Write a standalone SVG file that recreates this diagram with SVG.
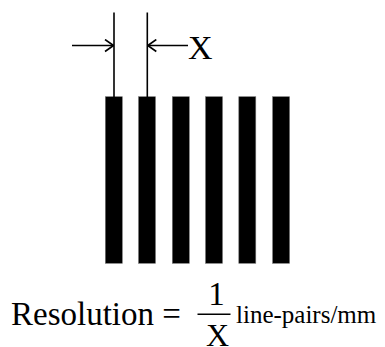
<svg xmlns="http://www.w3.org/2000/svg" width="385" height="347" viewBox="0 0 385 347">
<style>
.bar{fill:#000;stroke:#777;stroke-width:0.6}
.ln{stroke:#000;stroke-width:1.6;fill:none}
.t{font-family:"Liberation Serif","Times New Roman",serif;fill:#000}
</style>
<defs>
<marker id="ah" viewBox="0 0 10 14" refX="9.5" refY="7" markerWidth="10" markerHeight="14" markerUnits="userSpaceOnUse" orient="auto">
<path d="M1,1 L9.5,7 L1,13" fill="none" stroke="#000" stroke-width="1.6"/>
</marker>
</defs>
<rect width="385" height="347" fill="#fff"/>
<g id="bars">
<rect class="bar" x="105.3" y="96.7" width="17" height="166.6"/>
<rect class="bar" x="138.5" y="96.7" width="17" height="166.6"/>
<rect class="bar" x="172.3" y="96.7" width="17" height="166.6"/>
<rect class="bar" x="205.5" y="96.7" width="17" height="166.6"/>
<rect class="bar" x="238.8" y="96.7" width="17" height="166.6"/>
<rect class="bar" x="272.6" y="96.7" width="17" height="166.6"/>
</g>
<g id="connectors">
<line class="ln" x1="114" y1="12.5" x2="114" y2="97"/>
<line class="ln" x1="147.3" y1="12.5" x2="147.3" y2="97"/>
<line class="ln" x1="72" y1="45.5" x2="113.5" y2="45.5" marker-end="url(#ah)"/>
<line class="ln" x1="188" y1="45.5" x2="147.8" y2="45.5" marker-end="url(#ah)"/>
</g>
<g id="label-x">
<text class="t" x="188" y="58.5" font-size="34">X</text>
</g>
<g id="formula">
<text class="t" x="11" y="325" font-size="33">Resolution =</text>
<text class="t" x="216.5" y="305" font-size="33" text-anchor="middle">1</text>
<line class="ln" x1="197.5" y1="314.3" x2="230.5" y2="314.3"/>
<text class="t" x="217.5" y="345.5" font-size="32" text-anchor="middle">X</text>
<text class="t" x="236" y="323" font-size="25">line-pairs/mm</text>
</g>
</svg>
